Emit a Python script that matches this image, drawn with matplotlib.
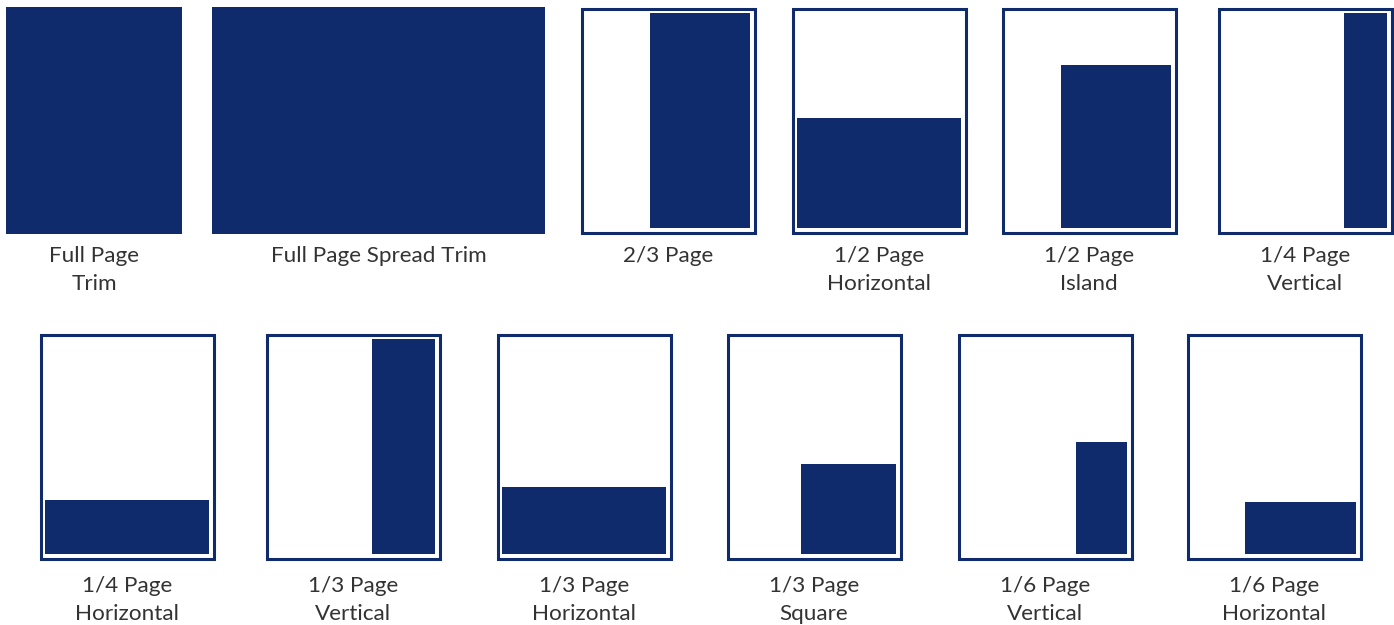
import matplotlib
matplotlib.use("Agg")
import matplotlib.pyplot as plt
from matplotlib.patches import Rectangle

#                               AD SIZE DATA
# solid trims (width / height in pixels of the sketch)
trim_labels = ["Full Page\nTrim", "Full Page Spread Trim"]
trim_w = [176, 333]
trim_h = [227, 227]

# ads inside a page frame: share of page width / height (anchored bottom right)
top_labels = ["2/3 Page", "1/2 Page\nHorizontal", "1/2 Page\nIsland", "1/4 Page\nVertical"]
top_w = [0.61, 1.0, 0.67, 0.26]
top_h = [1.0, 0.51, 0.76, 1.0]

bottom_labels = ["1/4 Page\nHorizontal", "1/3 Page\nVertical", "1/3 Page\nHorizontal",
                 "1/3 Page\nSquare", "1/6 Page\nVertical", "1/6 Page\nHorizontal"]
bottom_w = [1.0, 0.385, 1.0, 0.58, 0.31, 0.675]
bottom_h = [0.25, 1.0, 0.31, 0.42, 0.52, 0.24]

#                               LAYOUT
NAVY = "#0f2b6b"
TEXT = "#333333"
FONT = "Lato"
FS = 16.2
page_w, page_h = 176, 227
pad = 6
trim_x = [6, 212]
top_x = [580, 791, 1001, 1217]
bottom_x = [39, 265, 496, 726, 957, 1186]
top_y, bottom_y = 7, 333
top_base, bottom_base = 262, 592
line_gap = 28.5

fig = plt.figure(figsize=(13.94, 6.25), dpi=100)
ax = fig.add_axes([0, 0, 1, 1])
ax.set_xlim(0, 1394)
ax.set_ylim(625, 0)
ax.axis("off")


def label(cx, y, txt):
    # one text per line so the baselines are where we want them
    for i, line in enumerate(txt.split("\n")):
        ax.text(cx, y + i * line_gap, line, ha="center", va="baseline", fontsize=FS,
                family=FONT, color=TEXT)


def page(x, y, fw, fh, txt, base):
    # frame
    ax.add_patch(Rectangle((x + 1.5, y + 1.5), page_w - 3, page_h - 3, fill=False,
                           edgecolor=NAVY, lw=2.2))
    x0, x1 = x + pad, x + page_w - pad
    y0, y1 = y + pad, y + page_h - pad
    w = fw * (x1 - x0)
    h = fh * (y1 - y0)
    ax.add_patch(Rectangle((x1 - w, y1 - h), w, h, facecolor=NAVY, edgecolor="none"))
    label(x + page_w / 2, base, txt)


for x, w, h, t in zip(trim_x, trim_w, trim_h, trim_labels):
    ax.add_patch(Rectangle((x, top_y), w, h, facecolor=NAVY, edgecolor="none"))
    label(x + w / 2, top_base, t)

for x, fw, fh, t in zip(top_x, top_w, top_h, top_labels):
    page(x, top_y, fw, fh, t, top_base)

for x, fw, fh, t in zip(bottom_x, bottom_w, bottom_h, bottom_labels):
    page(x, bottom_y, fw, fh, t, bottom_base)

fig.savefig("out.png", dpi=100, facecolor="white")
